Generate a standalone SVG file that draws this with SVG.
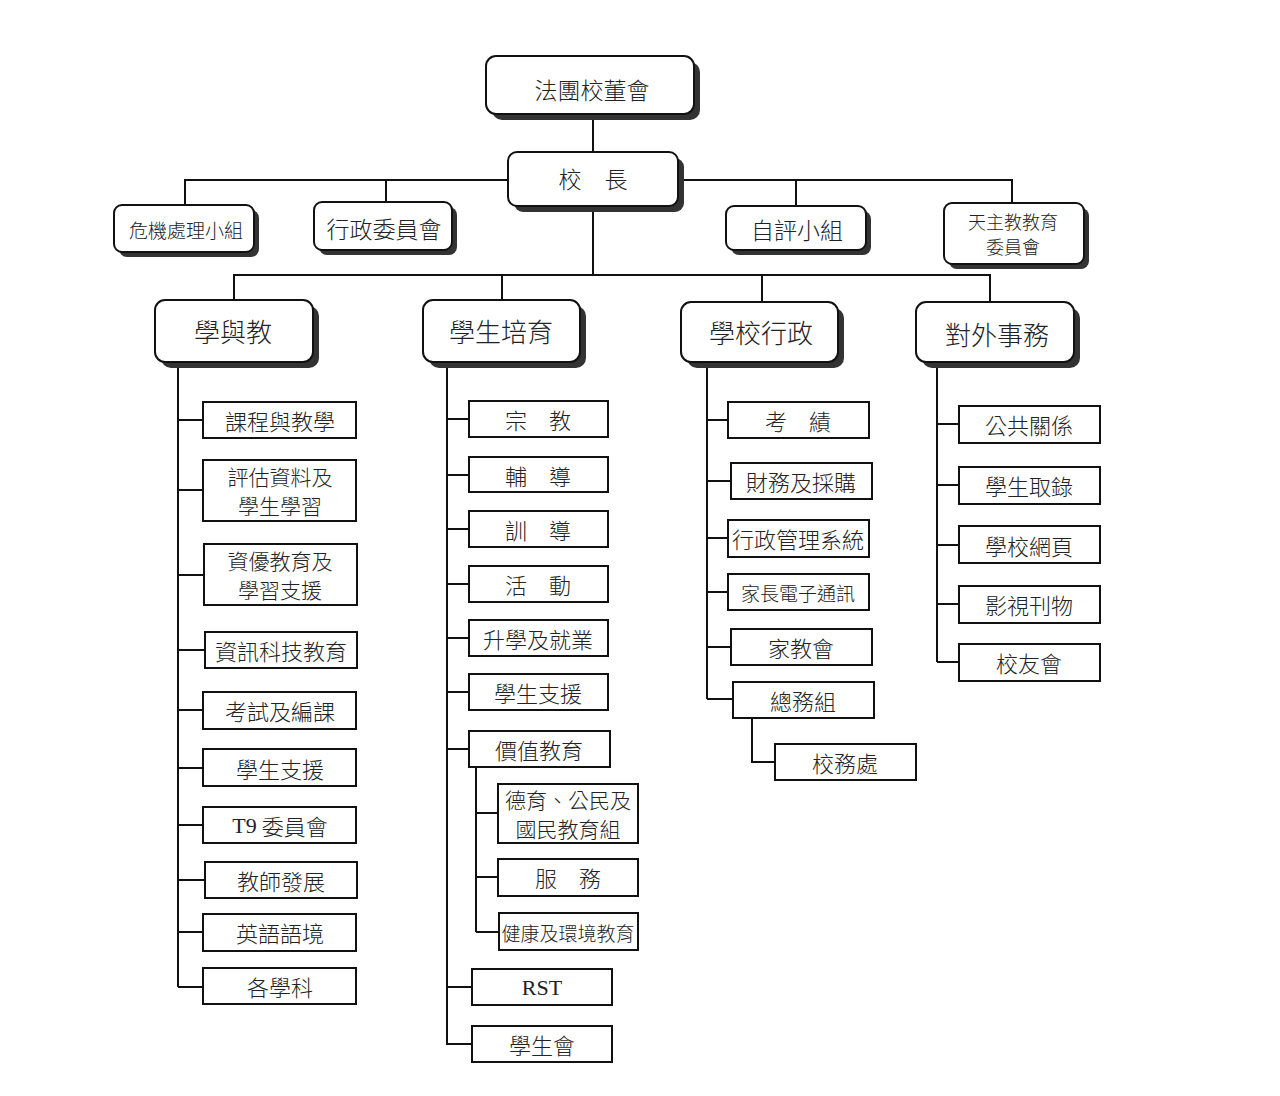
<svg xmlns="http://www.w3.org/2000/svg" width="1280" height="1096" viewBox="0 0 1280 1096">
<style>
.bg{fill:#ffffff}
.rb{fill:#ffffff;stroke:#111;stroke-width:2}
.sh{fill:#333;stroke:none}
.bx{fill:#ffffff;stroke:#111;stroke-width:2}
.ln{fill:none;stroke:#111;stroke-width:2}
text{font-family:"Noto Sans CJK TC","Noto Sans CJK SC",sans-serif;font-weight:300;fill:#222;text-anchor:middle;dominant-baseline:central}
.t21{font-size:21px}
.t22{font-size:22px}
.t23{font-size:23px}
.t19{font-size:19px}
.t18{font-size:18px}
.t26{font-size:26px}
.lat{font-family:"Liberation Serif",serif;font-weight:400}
</style>
<rect class="bg" x="0" y="0" width="1280" height="1096"/>
<g id="connectors">
<path class="ln" d="M593,114 V152"/>
<path class="ln" d="M185,205 V180 H508 M678,180 H1012 V203 M386,180 V202 M796,180 V206"/>
<path class="ln" d="M593,206 V275 M234,300 V275 H990 V302 M502,275 V300 M762,275 V302"/>
<path class="ln" d="M178,362 V987 M178,420 H203 M178,490 H203 M178,575 H203 M178,650 H205 M178,710 H203 M178,768 H203 M178,825 H203 M178,880 H205 M178,932 H203 M178,987 H203"/>
<path class="ln" d="M447,362 V1045 M447,419 H469 M447,475 H469 M447,529 H469 M447,584 H469 M447,638 H469 M447,692 H469 M447,749 H469 M447,987 H472 M447,1044 H472"/>
<path class="ln" d="M476,767 V932 M476,813 H498 M476,877 H498 M476,932 H499"/>
<path class="ln" d="M707,362 V699 M707,420 H728 M707,481 H731 M707,538 H728 M707,592 H728 M707,647 H731 M707,699 H733"/>
<path class="ln" d="M752,718 V762 H775"/>
<path class="ln" d="M937,362 V662 M937,424 H959 M937,485 H959 M937,545 H959 M937,604 H959 M937,662 H959"/>
</g>
<g id="n-board">
<rect class="sh" x="492" y="62" width="208" height="58" rx="10"/>
<rect class="rb" x="486" y="56" width="208" height="58" rx="10"/>
<text class="t23" x="592" y="89">法團校董會</text>
</g>
<g id="n-principal">
<rect class="sh" x="514" y="158" width="170" height="54" rx="9"/>
<rect class="rb" x="508" y="152" width="170" height="54" rx="9"/>
<text class="t23" x="593" y="178">校　長</text>
</g>
<g id="n-crisis">
<rect class="sh" x="119" y="210" width="140" height="47" rx="8"/>
<rect class="rb" x="114" y="205" width="140" height="47" rx="8"/>
<text class="t19" x="186" y="229">危機處理小組</text>
</g>
<g id="n-admincomm">
<rect class="sh" x="319" y="207" width="138" height="48" rx="8"/>
<rect class="rb" x="314" y="202" width="138" height="48" rx="8"/>
<text class="t23" x="384" y="228">行政委員會</text>
</g>
<g id="n-selfeval">
<rect class="sh" x="731" y="211" width="140" height="44" rx="8"/>
<rect class="rb" x="726" y="206" width="140" height="44" rx="8"/>
<text class="t23" x="797" y="229">自評小組</text>
</g>
<g id="n-catholic">
<rect class="sh" x="949" y="208" width="140" height="61" rx="8"/>
<rect class="rb" x="944" y="203" width="140" height="61" rx="8"/>
<text class="t18" x="1013" y="221">天主教教育</text>
<text class="t18" x="1013" y="246">委員會</text>
</g>
<g id="n-learn">
<rect class="sh" x="161" y="306" width="158" height="62" rx="10"/>
<rect class="rb" x="155" y="300" width="158" height="62" rx="10"/>
<text class="t26" x="233" y="330">學與教</text>
</g>
<g id="n-student">
<rect class="sh" x="429" y="306" width="157" height="62" rx="10"/>
<rect class="rb" x="423" y="300" width="157" height="62" rx="10"/>
<text class="t26" x="501" y="330">學生培育</text>
</g>
<g id="n-admin">
<rect class="sh" x="687" y="308" width="157" height="60" rx="10"/>
<rect class="rb" x="681" y="302" width="157" height="60" rx="10"/>
<text class="t26" x="761" y="331">學校行政</text>
</g>
<g id="n-external">
<rect class="sh" x="922" y="308" width="158" height="60" rx="10"/>
<rect class="rb" x="916" y="302" width="158" height="60" rx="10"/>
<text class="t26" x="997" y="333">對外事務</text>
</g>
<g id="n-c1-1"><rect class="bx" x="203" y="402" width="153" height="36"/><text class="t22" x="280" y="420">課程與教學</text></g>
<g id="n-c1-2"><rect class="bx" x="203" y="460" width="153" height="61"/><text class="t21" x="280" y="476">評估資料及</text><text class="t21" x="280" y="505">學生學習</text></g>
<g id="n-c1-3"><rect class="bx" x="204" y="544" width="153" height="61"/><text class="t21" x="280" y="560">資優教育及</text><text class="t21" x="280" y="589">學習支援</text></g>
<g id="n-c1-4"><rect class="bx" x="205" y="632" width="152" height="36"/><text class="t22" x="281" y="650">資訊科技教育</text></g>
<g id="n-c1-5"><rect class="bx" x="203" y="692" width="153" height="37"/><text class="t22" x="280" y="710">考試及編課</text></g>
<g id="n-c1-6"><rect class="bx" x="203" y="749" width="153" height="37"/><text class="t22" x="280" y="768">學生支援</text></g>
<g id="n-c1-7"><rect class="bx" x="203" y="807" width="153" height="36"/><text class="t22" x="280" y="825"><tspan class="lat">T9</tspan> 委員會</text></g>
<g id="n-c1-8"><rect class="bx" x="205" y="862" width="152" height="36"/><text class="t22" x="281" y="880">教師發展</text></g>
<g id="n-c1-9"><rect class="bx" x="203" y="914" width="153" height="37"/><text class="t22" x="280" y="932">英語語境</text></g>
<g id="n-c1-10"><rect class="bx" x="203" y="968" width="153" height="36"/><text class="t22" x="280" y="986">各學科</text></g>
<g id="n-c2-1"><rect class="bx" x="469" y="401" width="139" height="36"/><text class="t22" x="538" y="419">宗　教</text></g>
<g id="n-c2-2"><rect class="bx" x="469" y="457" width="139" height="35"/><text class="t22" x="538" y="475">輔　導</text></g>
<g id="n-c2-3"><rect class="bx" x="469" y="511" width="139" height="36"/><text class="t22" x="538" y="529">訓　導</text></g>
<g id="n-c2-4"><rect class="bx" x="469" y="566" width="139" height="36"/><text class="t22" x="538" y="584">活　動</text></g>
<g id="n-c2-5"><rect class="bx" x="469" y="620" width="139" height="36"/><text class="t22" x="538" y="638">升學及就業</text></g>
<g id="n-c2-6"><rect class="bx" x="469" y="674" width="139" height="36"/><text class="t22" x="538" y="692">學生支援</text></g>
<g id="n-c2-7"><rect class="bx" x="469" y="731" width="141" height="36"/><text class="t22" x="539" y="749">價值教育</text></g>
<g id="n-c2-7a"><rect class="bx" x="498" y="784" width="140" height="59"/><text class="t21" x="568" y="799">德育、公民及</text><text class="t21" x="568" y="828">國民教育組</text></g>
<g id="n-c2-7b"><rect class="bx" x="498" y="859" width="140" height="37"/><text class="t22" x="568" y="877">服　務</text></g>
<g id="n-c2-7c"><rect class="bx" x="499" y="913" width="139" height="37"/><text class="t19" x="568" y="932">健康及環境教育</text></g>
<g id="n-c2-8"><rect class="bx" x="472" y="969" width="140" height="36"/><text class="t22 lat" x="542" y="987">RST</text></g>
<g id="n-c2-9"><rect class="bx" x="472" y="1026" width="140" height="36"/><text class="t22" x="542" y="1044">學生會</text></g>
<g id="n-c3-1"><rect class="bx" x="728" y="402" width="141" height="36"/><text class="t22" x="798" y="420">考　績</text></g>
<g id="n-c3-2"><rect class="bx" x="731" y="463" width="141" height="36"/><text class="t22" x="801" y="481">財務及採購</text></g>
<g id="n-c3-3"><rect class="bx" x="728" y="520" width="141" height="37"/><text class="t22" x="798" y="538">行政管理系統</text></g>
<g id="n-c3-4"><rect class="bx" x="728" y="574" width="141" height="36"/><text class="t19" x="798" y="592">家長電子通訊</text></g>
<g id="n-c3-5"><rect class="bx" x="731" y="629" width="141" height="36"/><text class="t22" x="801" y="647">家教會</text></g>
<g id="n-c3-6"><rect class="bx" x="733" y="682" width="141" height="36"/><text class="t22" x="803" y="700">總務組</text></g>
<g id="n-c3-6a"><rect class="bx" x="775" y="744" width="141" height="36"/><text class="t22" x="845" y="762">校務處</text></g>
<g id="n-c4-1"><rect class="bx" x="959" y="406" width="141" height="37"/><text class="t22" x="1029" y="424">公共關係</text></g>
<g id="n-c4-2"><rect class="bx" x="959" y="467" width="141" height="37"/><text class="t22" x="1029" y="485">學生取錄</text></g>
<g id="n-c4-3"><rect class="bx" x="959" y="526" width="141" height="37"/><text class="t22" x="1029" y="545">學校網頁</text></g>
<g id="n-c4-4"><rect class="bx" x="959" y="586" width="141" height="37"/><text class="t22" x="1029" y="604">影視刊物</text></g>
<g id="n-c4-5"><rect class="bx" x="959" y="644" width="141" height="37"/><text class="t22" x="1029" y="662">校友會</text></g>
</svg>
